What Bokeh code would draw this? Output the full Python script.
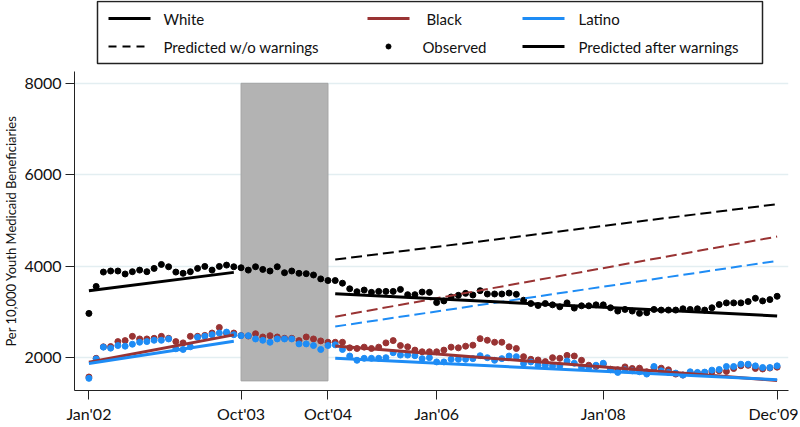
from bokeh.plotting import figure
from bokeh.models import Range1d, FixedTicker
from bokeh.layouts import column
from bokeh.embed import file_html
from bokeh.resources import INLINE
from bokeh.core.properties import value

# ---------------- data ----------------
months = list(range(96))  # Jan'02 .. Dec'09

white_obs = [2974, 3563, 3877, 3900, 3900, 3835, 3885, 3920, 3885, 3957,
             4043, 3993, 3877, 3850, 3885, 3957, 4000, 3920, 4000, 4029,
             3993, 3971, 3920, 3993, 3935, 3900, 3993, 3863, 3900, 3850,
             3842, 3813, 3728, 3692, 3692, 3634, 3512, 3448, 3484, 3434,
             3455, 3455, 3455, 3498, 3383, 3383, 3441, 3434, 3211, 3247,
             3333, 3369, 3412, 3376, 3470, 3398, 3398, 3398, 3419, 3391,
             3262, 3190, 3147, 3190, 3161, 3118, 3204, 3090, 3140, 3140,
             3161, 3161, 3097, 3025, 3061, 3025, 2975, 2990, 3061, 3047,
             3047, 3047, 3075, 3061, 3075, 3047, 3097, 3168, 3204, 3204,
             3204, 3233, 3305, 3247, 3276, 3348]

black_obs = [1585, 1993, 2244, 2250, 2358, 2380, 2473, 2416, 2416, 2430,
             2473, 2430, 2358, 2330, 2473, 2473, 2494, 2545, 2667, 2540,
             2545, 2490, 2480, 2530, 2459, 2487, 2459, 2430, 2430, 2380,
             2459, 2416, 2373, 2344, 2344, 2344, 2222, 2208, 2237, 2208,
             2237, 2330, 2380, 2272, 2244, 2172, 2136, 2136, 2136, 2172,
             2237, 2222, 2258, 2280, 2423, 2387, 2344, 2344, 2244, 2208,
             2029, 1971, 1957, 1921, 2007, 1993, 2057, 2043, 1950, 1842,
             1814, 1864, 1756, 1742, 1806, 1771, 1778, 1699, 1792, 1778,
             1742, 1649, 1627, 1680, 1670, 1680, 1700, 1720, 1706, 1770,
             1830, 1840, 1771, 1760, 1780, 1800]

latino_obs = [1555, 1980, 2237, 2215, 2272, 2258, 2301, 2344, 2358, 2387,
              2387, 2416, 2201, 2186, 2244, 2452, 2473, 2509, 2545, 2566,
              2509, 2487, 2487, 2416, 2387, 2344, 2416, 2416, 2416, 2308,
              2308, 2272, 2186, 2272, 2287, 2186, 2043, 1950, 1993, 1993,
              1993, 2007, 2115, 2064, 2064, 2050, 1986, 2007, 1914, 1914,
              1971, 1971, 1971, 1986, 2050, 2007, 1950, 1986, 2043, 2029,
              1878, 1914, 1842, 1842, 1828, 1828, 1935, 1885, 1792, 1792,
              1842, 1885, 1742, 1685, 1742, 1720, 1699, 1649, 1814, 1720,
              1685, 1670, 1627, 1699, 1685, 1692, 1735, 1749, 1814, 1814,
              1864, 1864, 1828, 1792, 1792, 1828]

pre_months = [0, 20]
white_pre = [3470, 3870]
black_pre = [1905, 2505]
latino_pre = [1880, 2366]

post_months = [34, 95]
white_post = [3405, 2918]
black_post = [2260, 1510]
latino_post = [1993, 1525]

white_cf = [4150, 5361]
black_cf = [2903, 4652]
latino_cf = [2688, 4122]

warning_period = [21, 33]
warning_box_y = [1500, 8000]

x_tick_pos = [0, 21, 33, 48, 71, 95]
x_tick_labels = ["Jan'02", "Oct'03", "Oct'04", "Jan'06", "Jan'08", "Dec'09"]
y_ticks = [2000, 4000, 6000, 8000]

series_names = ["White", "Black", "Latino"]
legend_row2 = ["Predicted w/o warnings", "Observed", "Predicted after warnings"]

# ---------------- style ----------------
FONT = "Lato"
C_WHITE = "#000000"
C_BLACK = "#993333"
C_LATINO = "#1e8cf5"
W = 798
BL, BR = 74, 10          # main frame borders -> frame spans page x 74..788
FRAME_L, FRAME_R = BL, W - BR

# ---------------- legend figure (frame aligned with main frame) ----------------
LH = 66
leg = figure(width=W, height=LH, x_range=Range1d(FRAME_L, FRAME_R),
             y_range=Range1d(LH, 0), output_backend="svg", toolbar_location=None,
             x_axis_location=None, y_axis_location=None, min_border=0,
             min_border_left=BL, min_border_right=BR)
leg.grid.visible = False
leg.outline_line_color = None

leg.quad(left=[97], right=[762], top=[1], bottom=[63], fill_color=None,
         line_color="#222222", line_width=1.5)
r1, r2 = 18, 46
leg.segment(x0=[108, 367, 522, 522], x1=[150, 409, 564, 564],
            y0=[r1, r1, r1, r2], y1=[r1, r1, r1, r2],
            line_color=[C_WHITE, C_BLACK, C_LATINO, C_WHITE], line_width=3)
leg.segment(x0=[108], x1=[150], y0=[r2], y1=[r2], line_color="black",
            line_width=2, line_dash="8 6")
leg.scatter(x=[388], y=[r2], size=5, color="black")
leg.text(x=[163, 426, 578, 163, 422, 578], y=[r1, r1, r1, r2, r2, r2],
         text=series_names + legend_row2, text_baseline="middle",
         text_font=value(FONT), text_font_size="15px", text_color="#111111")

# ---------------- main figure ----------------
p = figure(width=W, height=359, x_range=Range1d(-1.99, 96.57),
           y_range=Range1d(1290, 8258), output_backend="svg",
           toolbar_location=None, min_border_left=BL, min_border_right=BR,
           min_border_top=5, min_border_bottom=30)
p.outline_line_color = None
p.xgrid.visible = False
p.ygrid.grid_line_color = "#e3eef1"
p.ygrid.grid_line_width = 1.5

p.xaxis.ticker = FixedTicker(ticks=x_tick_pos)
p.xaxis.major_label_overrides = dict(zip(x_tick_pos, x_tick_labels))
p.yaxis.ticker = FixedTicker(ticks=y_ticks)
for ax in (p.xaxis, p.yaxis):
    ax.major_tick_out = 9
    ax.major_tick_in = 0
    ax.minor_tick_out = 0
    ax.minor_tick_in = 0
    ax.axis_line_color = "#222222"
    ax.major_tick_line_color = "#222222"
    ax.major_label_text_font = FONT
    ax.major_label_text_font_size = "16px"
    ax.major_label_text_color = "#111111"
    ax.major_label_standoff = 4
p.yaxis.axis_label = "Per 10,000 Youth Medicaid Beneficiaries"
p.yaxis.axis_label_text_font = FONT
p.yaxis.axis_label_text_font_size = "13px"
p.yaxis.axis_label_text_font_style = "normal"
p.yaxis.axis_label_standoff = 2
p.yaxis.axis_label_text_color = "#111111"

p.quad(left=[warning_period[0]], right=[warning_period[1]],
       bottom=[warning_box_y[0]], top=[warning_box_y[1]],
       fill_color="#b3b3b3", line_color="#a4a4a4", line_width=1)

p.scatter(months, white_obs, size=6, color=C_WHITE)
p.scatter(months, black_obs, size=6, color=C_BLACK)
p.scatter(months, latino_obs, size=6, color=C_LATINO)

for ys, c in ((white_cf, C_WHITE), (black_cf, C_BLACK), (latino_cf, C_LATINO)):
    p.line(post_months, ys, line_color=c, line_width=2, line_dash="11 5")
for pre, post, c in ((white_pre, white_post, C_WHITE),
                     (black_pre, black_post, C_BLACK),
                     (latino_pre, latino_post, C_LATINO)):
    p.line(pre_months, pre, line_color=c, line_width=3)
    p.line(post_months, post, line_color=c, line_width=3)

layout = column(leg, p, spacing=0)
open("out.html", "w").write(file_html(layout, INLINE))
